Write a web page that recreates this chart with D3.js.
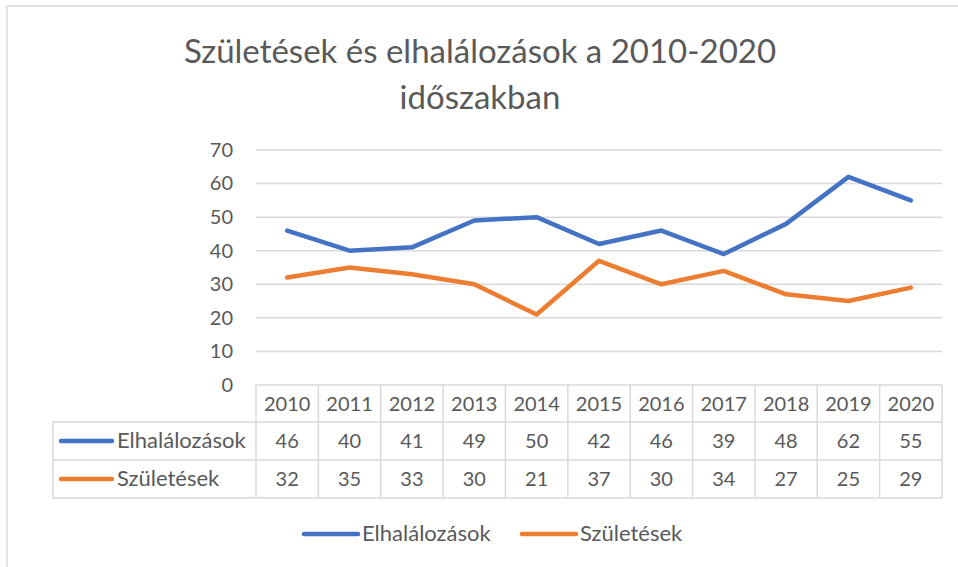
<!DOCTYPE html>
<html>
<head>
<meta charset="utf-8">
<script src="https://cdn.jsdelivr.net/npm/d3@7"></script>
<style>
  body { margin: 0; background: #fff; }
  svg text { font-family: Lato, "Open Sans", sans-serif; fill: #595959; }
</style>
</head>
<body>
<svg id="chart" width="958" height="567"></svg>
<script>
// chart data
var years = ["2010","2011","2012","2013","2014","2015","2016","2017","2018","2019","2020"];
var deaths = [46, 40, 41, 49, 50, 42, 46, 39, 48, 62, 55];
var births = [32, 35, 33, 30, 21, 37, 30, 34, 27, 25, 29];
var seriesNames = ["Elhalálozások", "Születések"];
var seriesColors = ["#4472C4", "#ED7D31"];
var yTicks = [0, 10, 20, 30, 40, 50, 60, 70];
var titleLines = ["Születések és elhalálozások a 2010-2020", "időszakban"];

var series = [deaths, births];

var svg = d3.select("#chart");

// outer frame (only top/left visible in the crop)
svg.append("line").attr("x1", 7).attr("x2", 958).attr("y1", 6).attr("y2", 6)
  .attr("stroke", "#d9d9d9").attr("stroke-width", 1.5);
svg.append("line").attr("x1", 7).attr("x2", 7).attr("y1", 6).attr("y2", 567)
  .attr("stroke", "#d9d9d9").attr("stroke-width", 1.5);

// title
svg.selectAll(".title").data(titleLines).enter().append("text")
  .attr("x", 480)
  .attr("y", function(d, i) { return 63 + i * 46; })
  .attr("text-anchor", "middle")
  .style("font-size", "33px")
  .text(function(d) { return d; });

var plotL = 256, plotR = 942, plotT = 150, plotB = 385;

var x = d3.scaleBand().domain(years).range([plotL, plotR]);
var y = d3.scaleLinear().domain([0, 70]).range([plotB, plotT]);

// gridlines
svg.append("g").selectAll("line").data(yTicks.filter(function(t) { return t > 0; })).enter()
  .append("line")
  .attr("x1", plotL).attr("x2", plotR)
  .attr("y1", function(d) { return y(d); }).attr("y2", function(d) { return y(d); })
  .attr("stroke", "#d9d9d9").attr("stroke-width", 1.5);

// y axis labels
var yAxis = d3.axisLeft(y).tickValues(yTicks).tickSize(0).tickPadding(0);
var ga = svg.append("g").attr("transform", "translate(233,0)").call(yAxis);
ga.select(".domain").remove();
ga.selectAll("text").style("font-size", "20px").attr("fill", "#595959")
  .style("font-family", "Lato, 'Open Sans', sans-serif");

// lines
var line = d3.line()
  .x(function(d, i) { return x(years[i]) + x.bandwidth() / 2; })
  .y(function(d) { return y(d); });

svg.selectAll(".series").data(series).enter().append("path")
  .attr("d", line)
  .attr("fill", "none")
  .attr("stroke", function(d, i) { return seriesColors[i]; })
  .attr("stroke-width", 4.5)
  .attr("stroke-linecap", "round")
  .attr("stroke-linejoin", "round");

// data table
var tableLeft = 53;
var grid = "#d9d9d9";
var tbl = svg.append("g");

// horizontal lines
tbl.append("line").attr("x1", plotL).attr("x2", plotR).attr("y1", 385).attr("y2", 385)
  .attr("stroke", grid).attr("stroke-width", 1.5);
[422, 460, 498].forEach(function(yy) {
  tbl.append("line").attr("x1", tableLeft).attr("x2", plotR).attr("y1", yy).attr("y2", yy)
    .attr("stroke", grid).attr("stroke-width", 1.5);
});
// vertical lines
tbl.append("line").attr("x1", tableLeft).attr("x2", tableLeft).attr("y1", 422).attr("y2", 498)
  .attr("stroke", grid).attr("stroke-width", 1.5);
tbl.selectAll(".vl").data(years.concat(["end"])).enter().append("line")
  .attr("x1", function(d, i) { return plotL + i * x.bandwidth(); })
  .attr("x2", function(d, i) { return plotL + i * x.bandwidth(); })
  .attr("y1", 385).attr("y2", 498)
  .attr("stroke", grid).attr("stroke-width", 1.5);

// header years
tbl.selectAll(".yr").data(years).enter().append("text")
  .attr("x", function(d) { return x(d) + x.bandwidth() / 2; })
  .attr("y", 411)
  .attr("text-anchor", "middle")
  .style("font-size", "20px")
  .text(function(d) { return d; });

// values
series.forEach(function(vals, s) {
  tbl.selectAll(".v" + s).data(vals).enter().append("text")
    .attr("x", function(d, i) { return x(years[i]) + x.bandwidth() / 2; })
    .attr("y", 448 + s * 38)
    .attr("text-anchor", "middle")
    .style("font-size", "20px")
    .text(function(d) { return d; });
  tbl.append("line")
    .attr("x1", 61).attr("x2", 112)
    .attr("y1", 441 + s * 38).attr("y2", 441 + s * 38)
    .attr("stroke", seriesColors[s]).attr("stroke-width", 4.5)
    .attr("stroke-linecap", "round");
  tbl.append("text")
    .attr("x", 117).attr("y", 448 + s * 38)
    .style("font-size", "22px")
    .text(seriesNames[s]);
});

// legend
var legendX = [304, 522];
seriesNames.forEach(function(name, i) {
  svg.append("line")
    .attr("x1", legendX[i]).attr("x2", legendX[i] + 54)
    .attr("y1", 534).attr("y2", 534)
    .attr("stroke", seriesColors[i]).attr("stroke-width", 4.5)
    .attr("stroke-linecap", "round");
  svg.append("text")
    .attr("x", legendX[i] + 58).attr("y", 541)
    .style("font-size", "22px")
    .text(name);
});
</script>
</body>
</html>
